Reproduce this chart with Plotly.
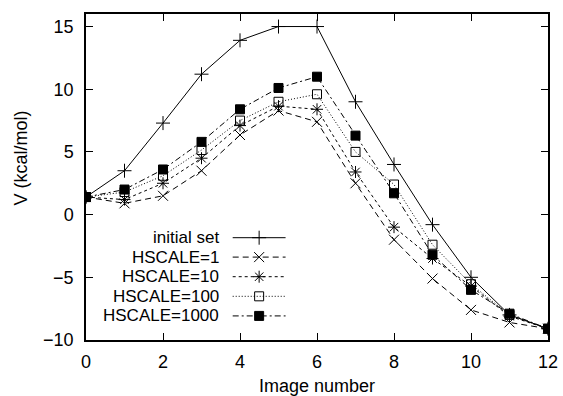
import plotly.graph_objects as go

# ---------------- data ----------------
image_number = list(range(13))
initial_set = [1.4, 3.5, 7.3, 11.2, 13.9, 15.0, 15.0, 9.0, 4.0, -0.8, -5.0, -8.0, -9.1]
hscale_1 = [1.4, 0.9, 1.5, 3.5, 6.35, 8.3, 7.4, 2.5, -2.0, -5.1, -7.6, -8.6, -9.1]
hscale_10 = [1.4, 1.2, 2.5, 4.5, 7.1, 8.65, 8.4, 3.4, -1.0, -3.5, -5.7, -8.1, -9.1]
hscale_100 = [1.4, 1.8, 3.1, 5.15, 7.5, 9.0, 9.6, 5.0, 2.4, -2.4, -5.55, -8.0, -9.1]
hscale_1000 = [1.4, 2.0, 3.6, 5.8, 8.4, 10.1, 11.0, 6.3, 1.7, -3.2, -6.0, -7.9, -9.1]

series_names = ["initial set", "HSCALE=1", "HSCALE=10", "HSCALE=100", "HSCALE=1000"]
series_values = [initial_set, hscale_1, hscale_10, hscale_100, hscale_1000]

x_ticks = [0, 2, 4, 6, 8, 10, 12]
y_ticks = [-10, -5, 0, 5, 10, 15]

# ---------------- styles ----------------
dashes = ["solid", "6px,4px", "3px,3px", "1px,2px", "6px,3px,2px,3px"]
symbols = ["cross-thin-open", "x-thin-open", "asterisk-open", "square-open", "square"]
sizes = [10, 10, 10, 9, 9]
FONT = "Liberation Sans, Arial, sans-serif"

fig = go.Figure()
for name, vals, d, s, sz in zip(series_names, series_values, dashes, symbols, sizes):
    fig.add_trace(go.Scatter(
        x=image_number, y=vals, name=name, mode="lines+markers",
        line=dict(color="black", width=1, dash=d),
        marker=dict(symbol=s, size=sz, color="black",
                    line=dict(color="black", width=1)),
        showlegend=False, xaxis="x", yaxis="y"))

# ---------------- custom gnuplot-style key (text left, sample right) ----------------
key_text_x = 0.29
key_line_x = [0.3175, 0.432]
key_rows_y = [0.3138, 0.2543, 0.1942, 0.1340, 0.0739]
for name, d, s, sz, ky in zip(series_names, dashes, symbols, sizes, key_rows_y):
    fig.add_annotation(x=key_text_x, y=ky, xref="paper", yref="paper",
                       text=name, showarrow=False, xanchor="right", yanchor="middle",
                       borderpad=0,
                       font=dict(family=FONT, size=17, color="black"))
    fig.add_trace(go.Scatter(
        x=key_line_x, y=[ky, ky], mode="lines", xaxis="x2", yaxis="y2",
        line=dict(color="black", width=1, dash=d), showlegend=False, hoverinfo="skip"))
    fig.add_trace(go.Scatter(
        x=[sum(key_line_x) / 2], y=[ky], mode="markers", xaxis="x2", yaxis="y2",
        marker=dict(symbol=s, size=sz, color="black", line=dict(color="black", width=1)),
        showlegend=False, hoverinfo="skip"))

# axis labels placed like gnuplot's
fig.add_annotation(x=-0.14, y=0.558, xref="paper", yref="paper", text="V (kcal/mol)",
                   textangle=-90, showarrow=False, xanchor="center", yanchor="middle",
                   font=dict(family=FONT, size=18, color="black"))
fig.add_annotation(x=0.5, y=-0.141, xref="paper", yref="paper", text="Image number",
                   showarrow=False, xanchor="center", yanchor="middle",
                   font=dict(family=FONT, size=18, color="black"))

axis_common = dict(showgrid=False, zeroline=False, showline=True, linecolor="black",
                   linewidth=1.5, mirror="ticks", ticks="inside", ticklen=7,
                   tickwidth=1.2, tickcolor="black", automargin=False,
                   tickfont=dict(family=FONT, size=18, color="black"))

fig.update_layout(
    width=563, height=396,
    margin=dict(l=86, r=15, t=14, b=56),
    paper_bgcolor="white", plot_bgcolor="white",
    font=dict(family=FONT, size=18, color="black"),
    xaxis=dict(range=[0, 12], tickvals=x_ticks, ticklabelstandoff=5, **axis_common),
    yaxis=dict(range=[-10, 16], tickvals=y_ticks, ticklabelstandoff=7, **axis_common),
    xaxis2=dict(range=[0, 1], overlaying="x", visible=False, fixedrange=True),
    yaxis2=dict(range=[0, 1], overlaying="y", visible=False, fixedrange=True),
)

fig.write_html("out.html")
